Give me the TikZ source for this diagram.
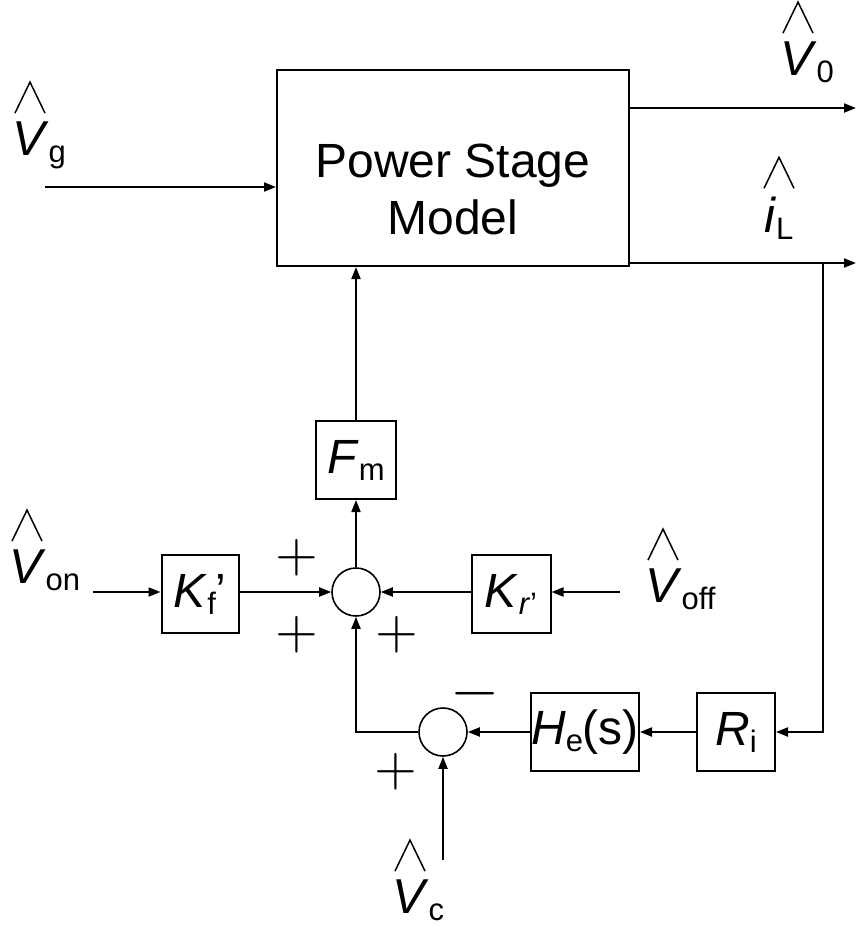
\documentclass[tikz,border=0pt]{standalone}
\usepackage{fontspec}
\setmainfont{Liberation Sans}
\usepackage{tikz}
\usetikzlibrary{arrows.meta,positioning,calc}
\newcommand{\lowsub}[1]{\raisebox{-7pt}{\fontsize{31}{31}\selectfont #1}}
\newcommand{\hatmark}[2]{\draw[hatline] ([shift={(#2,-8)}]#1.north west) -- ++(15,-31) -- ++(15,31);}

\begin{document}
\begin{tikzpicture}[x=1pt,y=-1pt,
  wire/.style={line width=2pt},
  arr/.style={wire,-{Triangle[length=12pt,width=9pt]}},
  blk/.style={draw,line width=2pt,inner sep=0pt,minimum height=78pt,font=\fontsize{48}{50}\selectfont},
  sumpt/.style={draw,circle,line width=1.6pt,minimum size=48pt,inner sep=0pt},
  sig/.style={scale=5.5,inner sep=0pt},
  lbl/.style={font=\fontsize{49}{50}\selectfont,inner sep=0pt,anchor=base west},
  hatline/.style={line width=1.5pt}]
  \useasboundingbox (0,0) rectangle (856,926);
  % power stage
  \node[draw,line width=2pt,minimum width=352pt,minimum height=196pt] (power) at (453,168) {};
  \node[font=\fontsize{48}{57}\selectfont,align=center,inner sep=0pt] (ptext) at (453,189) {Power Stage\\Model};
  % blocks
  \node[blk,minimum width=80pt] (fm) at (356,460) {\textit{F}\lowsub{m}};
  \node[blk,minimum width=77pt] (kf) at (200,594) {\textit{K}\lowsub{f}'};
  \node[blk,minimum width=79pt] (kr) at (511,594) {\textit{K}\lowsub{\textit{r}'}};
  \node[blk,minimum width=108pt] (he) at (585,732) {\textit{H}\lowsub{e}(s)};
  \node[blk,minimum width=78pt] (ri) at (736,732) {\textit{R}\lowsub{i}};
  \node[sumpt] (sum1) at (356,592) {};
  \node[sumpt] (sum2) at (443,732) {};
  % signs
  \node[sig] (pa) at (297,558) {$+$};
  \node[sig] (pb) at (297,635) {$+$};
  \node[sig] (pc) at (397,635) {$+$};
  \node[sig] (pd) at (396,772) {$+$};
  \node[sig,scale=1.15] (md) at (475,694) {$-$};
  % signal labels
  \node[lbl] (vg) at (12,155) {\textit{V}\lowsub{g}};
  \node[lbl] (vo) at (780,75) {\textit{V}\lowsub{0}};
  \node[lbl] (il) at (764,232) {\textit{i}\lowsub{L}};
  \node[lbl] (von) at (9,583) {\textit{V}\lowsub{on}};
  \node[lbl] (voff) at (645,602) {\textit{V}\lowsub{off}};
  \node[lbl] (vc) at (392,913) {\textit{V}\lowsub{c}};
  \hatmark{vg}{3}
  \hatmark{vo}{3}
  \hatmark{il}{0}
  \hatmark{von}{3}
  \hatmark{voff}{3}
  \hatmark{vc}{3}
  % free ends
  \coordinate (vgin) at (45,187);
  \coordinate (vout) at (856,108);
  \coordinate (iout) at (856,263);
  \coordinate (tap) at (823,263);
  \coordinate (vonin) at (93,592);
  \coordinate (voffin) at (620,592);
  \coordinate (vcin) at (443,860);
  % connections
  \draw[arr] (vgin) -- (vgin -| power.west);
  \draw[arr] (vout -| power.east) -- (vout);
  \draw[arr] (iout -| power.east) -- (iout);
  \draw[arr] (tap) |- (ri);
  \draw[arr] (ri) -- (he);
  \draw[arr] (he) -- (sum2);
  \draw[arr] (sum2) -| (sum1);
  \draw[arr] (vcin) -- (sum2);
  \draw[arr] (vonin) -- (vonin -| kf.west);
  \draw[arr] (kf.east |- sum1) -- (sum1);
  \draw[arr] (voffin) -- (voffin -| kr.east);
  \draw[arr] (kr.west |- sum1) -- (sum1);
  \draw[arr] (sum1) -- (fm);
  \draw[arr] (fm) -- (fm |- power.south);
\end{tikzpicture}
\end{document}
